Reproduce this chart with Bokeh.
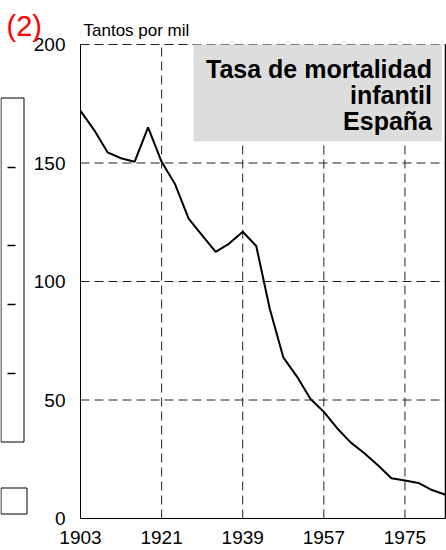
from bokeh.plotting import figure
from bokeh.models import Range1d, FixedTicker, Label, BoxAnnotation
from bokeh.embed import file_html
from bokeh.resources import INLINE

# ---- data ----
years = [1903, 1906, 1909, 1912, 1915, 1918, 1921, 1924, 1927, 1930, 1933, 1936,
         1939, 1942, 1945, 1948, 1951, 1954, 1957, 1960, 1963, 1966, 1969, 1972,
         1975, 1978, 1981, 1984]
tasa = [172, 164, 154.5, 152, 150.5, 165, 150.5, 141, 126.5, 119.5, 112.5, 116,
        121, 115, 88.5, 68, 60, 50.5, 45, 38, 32, 27.5, 22.5, 17,
        16, 15, 12, 10]
x_ticks = [1903, 1921, 1939, 1957, 1975]
y_ticks = [0, 50, 100, 150, 200]
x_lo, x_hi = 1903, 1984
y_lo, y_hi = 0, 200
title_lines = ["Tasa de mortalidad", "infantil", "España"]
unit_label = "Tantos por mil"
panel_tag = "(2)"

FONT = "Liberation Sans"

# ---- layout (pixels on the 446x550 canvas) ----
W, H = 446, 550
PL, PR, PT, PB = 80, 445, 44, 518          # plot area of the chart
kx = (PR - PL) / (x_hi - x_lo)
ky = (PB - PT) / (y_hi - y_lo)
xs0 = x_lo - PL / kx
xs1 = xs0 + W / kx

def px2x(px):
    return xs0 + px / kx

def px2y(py):
    return y_lo + (PB - py) / ky

p = figure(width=W, height=H, output_backend="svg", toolbar_location=None,
           x_range=Range1d(xs0, xs1), y_range=Range1d(px2y(H), px2y(0)),
           min_border_left=0, min_border_right=0, min_border_top=0,
           min_border_bottom=0, background_fill_color="white",
           border_fill_color="white", outline_line_color=None)
p.xgrid.visible = False
p.ygrid.visible = False

# dashed grid, limited to the chart area
gx = x_ticks[1:]
gy = y_ticks[1:]
p.segment(x0=gx, y0=[y_lo] * len(gx), x1=gx, y1=[y_hi] * len(gx),
          line_color="#222222", line_width=1, line_dash="9 5")
p.segment(x0=[x_lo] * len(gy), y0=gy, x1=[x_hi] * len(gy), y1=gy,
          line_color="#222222", line_width=1, line_dash="9 5")
# solid right border
p.segment(x0=[x_hi], y0=[y_lo], x1=[x_hi], y1=[y_hi], line_color="black", line_width=1.5)

p.line(years, tasa, line_color="black", line_width=2)

xa = p.xaxis[0]
ya = p.yaxis[0]
xa.bounds = (x_lo, x_hi)
ya.bounds = (y_lo, y_hi)
xa.fixed_location = y_lo
ya.fixed_location = x_lo
for ax, ticks in ((xa, x_ticks), (ya, y_ticks)):
    ax.ticker = FixedTicker(ticks=ticks)
    ax.major_tick_line_color = None
    ax.minor_tick_line_color = None
    ax.axis_line_color = "black"
    ax.axis_line_width = 1
    ax.major_label_text_font = FONT
    ax.major_label_text_font_size = "19px"
    ax.major_label_text_color = "black"
xa.major_label_standoff = 6
ya.major_label_standoff = 9

# title box
p.add_layout(BoxAnnotation(left=px2x(193), right=px2x(441.5), bottom=px2y(141), top=y_hi,
                           fill_color="#dddddd", fill_alpha=1, line_color=None))
for txt, py in zip(title_lines, [68, 94, 120]):
    p.add_layout(Label(x=px2x(431.5), y=px2y(py), text=txt, text_align="right",
                       text_baseline="alphabetic", text_font=FONT,
                       text_font_style="bold", text_font_size="25px",
                       text_color="black"))

p.add_layout(Label(x=px2x(83), y=px2y(30), text=unit_label,
                   text_font=FONT, text_font_size="17px", text_color="black",
                   text_baseline="alphabetic"))
p.add_layout(Label(x=px2x(6), y=px2y(25), text=panel_tag,
                   text_font=FONT, text_font_size="29px", text_color="#ff0000",
                   text_baseline="alphabetic"))

# remnants of the neighbouring panel at the left edge (decoration)
p.quad(left=[px2x(0.5)], right=[px2x(23.5)], top=[px2y(97.5)], bottom=[px2y(441.5)],
       fill_color="white", line_color="black", line_width=1)
dy = [px2y(v) for v in (167, 245, 304, 373)]
p.segment(x0=[px2x(7)] * 4, y0=dy, x1=[px2x(15)] * 4, y1=dy,
          line_color="black", line_width=1.5)
p.quad(left=[px2x(0.5)], right=[px2x(26.5)], top=[px2y(487.5)], bottom=[px2y(513.5)],
       fill_color="white", line_color="black", line_width=1)

open("out.html", "w").write(file_html(p, INLINE))
